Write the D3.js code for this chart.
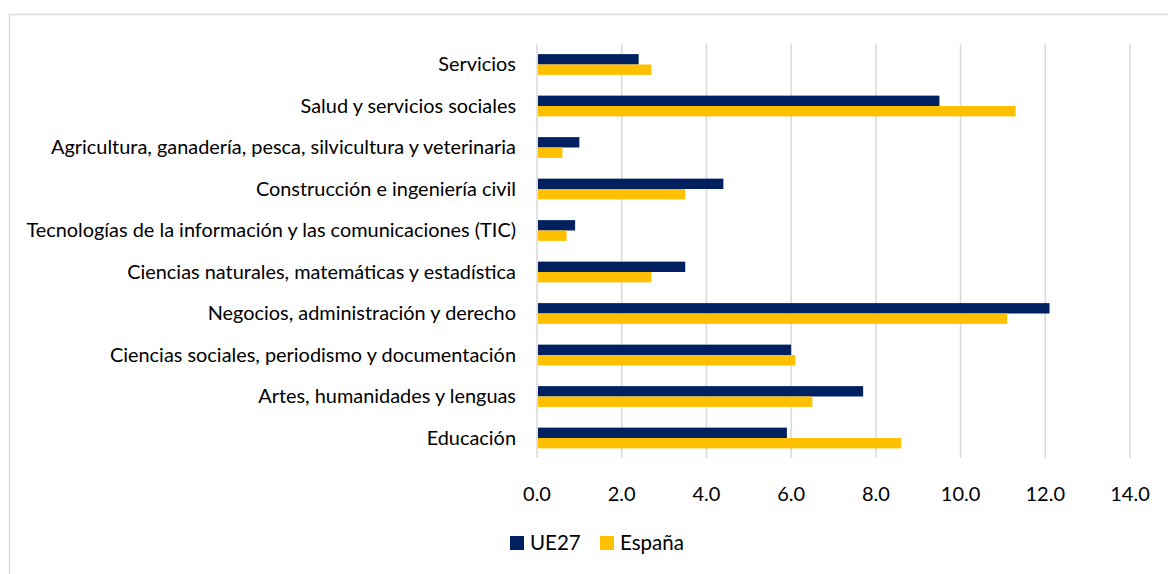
<!DOCTYPE html>
<html>
<head>
<meta charset="utf-8">
<script src="https://cdn.jsdelivr.net/npm/d3@7"></script>
<style>
  html, body { margin: 0; padding: 0; background: #fff; }
  svg { display: block; }
  text { font-family: Lato, "Open Sans", sans-serif; fill: #000; }
</style>
</head>
<body>
<div id="chart"></div>
<script>
// data, top to bottom as shown
const categories = [
    "Servicios",
    "Salud y servicios sociales",
    "Agricultura, ganadería, pesca, silvicultura y veterinaria",
    "Construcción e ingeniería civil",
    "Tecnologías de la información y las comunicaciones (TIC)",
    "Ciencias naturales, matemáticas y estadística",
    "Negocios, administración y derecho",
    "Ciencias sociales, periodismo y documentación",
    "Artes, humanidades y lenguas",
    "Educación"
];
const seriesNames = ["UE27", "España"];
const ue27   = [2.4, 9.5, 1.0, 4.4, 0.9, 3.5, 12.1, 6.0, 7.7, 5.9];
const espana = [2.7, 11.3, 0.6, 3.5, 0.7, 2.7, 11.1, 6.1, 6.5, 8.6];
const xTicks = [0, 2, 4, 6, 8, 10, 12, 14];

const W = 1168, H = 574;
const colours = { "UE27": "#002060", "España": "#FFC000" };

const svg = d3.select("#chart")
    .append("svg")
    .attr("width", W)
    .attr("height", H);

// chart frame (runs off the right and bottom edges)
svg.append("rect")
    .attr("x", 9.5)
    .attr("y", 14.5)
    .attr("width", W + 20)
    .attr("height", H + 20)
    .attr("fill", "none")
    .attr("stroke", "#d9d9d9")
    .attr("stroke-width", 1.5);

const x = d3.scaleLinear()
    .domain([0, 14])
    .range([537, 1130]);

const y = d3.scaleBand()
    .domain(categories)
    .range([43.75, 458.75])
    .paddingInner(0.5)
    .paddingOuter(0.25);

const ySub = d3.scaleBand()
    .domain(seriesNames)
    .range([0, y.bandwidth()]);

// gridlines
svg.append("g")
    .selectAll("line")
    .data(xTicks)
    .enter()
    .append("line")
    .attr("x1", d => x(d))
    .attr("x2", d => x(d))
    .attr("y1", 44)
    .attr("y2", 458)
    .attr("stroke", "#d9d9d9")
    .attr("stroke-width", 1.5);

// bars
const rows = categories.map((c, i) => ({ cat: c, values: [ue27[i], espana[i]] }));

const groups = svg.append("g")
    .selectAll("g")
    .data(rows)
    .enter()
    .append("g")
    .attr("transform", d => `translate(0, ${y(d.cat)})`);

groups.selectAll("rect")
    .data(d => d.values.map((v, j) => ({ name: seriesNames[j], value: v })))
    .enter()
    .append("rect")
    .attr("x", x(0) + 1)
    .attr("y", d => ySub(d.name))
    .attr("width", d => x(d.value) - x(0) - 1)
    .attr("height", ySub.bandwidth())
    .attr("fill", d => colours[d.name]);

// category labels
svg.append("g")
    .selectAll("text")
    .data(categories)
    .enter()
    .append("text")
    .attr("x", 516)
    .attr("y", d => y(d) + y.bandwidth() / 2)
    .attr("dy", "0.35em")
    .attr("text-anchor", "end")
    .attr("font-size", "19.9px")
    .text(d => d);

// value axis labels
svg.append("g")
    .selectAll("text")
    .data(xTicks)
    .enter()
    .append("text")
    .attr("x", d => x(d))
    .attr("y", 494)
    .attr("dy", "0.35em")
    .attr("text-anchor", "middle")
    .attr("font-size", "20px")
    .text(d => d.toFixed(1));

// legend
const legend = svg.append("g");
const legendItems = [
    { name: "UE27", x: 510 },
    { name: "España", x: 600 }
];
legend.selectAll("rect")
    .data(legendItems)
    .enter()
    .append("rect")
    .attr("x", d => d.x)
    .attr("y", 536)
    .attr("width", 14)
    .attr("height", 14)
    .attr("fill", d => colours[d.name]);

legend.selectAll("text")
    .data(legendItems)
    .enter()
    .append("text")
    .attr("x", d => d.x + 20)
    .attr("y", 543)
    .attr("dy", "0.35em")
    .attr("font-size", "20.5px")
    .text(d => d.name);
</script>
</body>
</html>
